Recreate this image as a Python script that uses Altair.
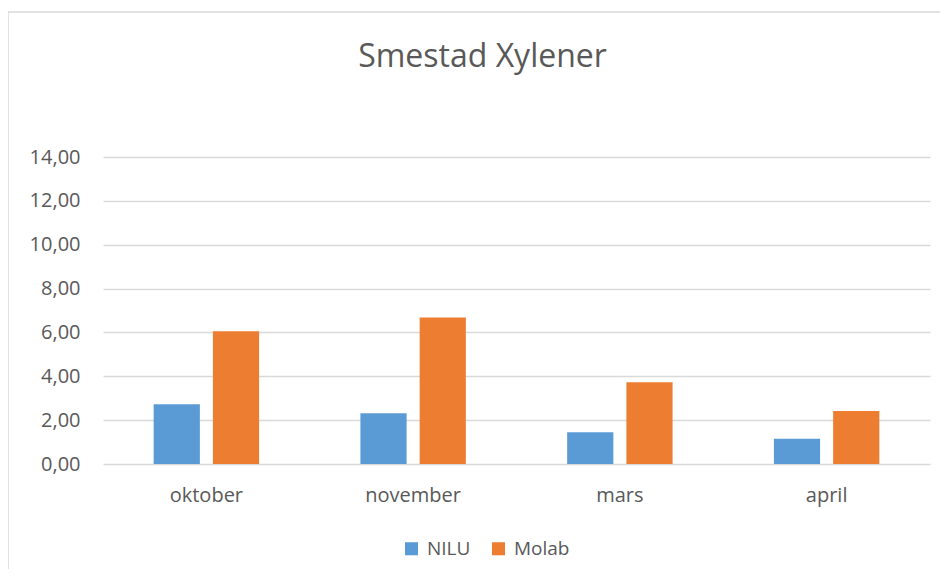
import altair as alt
import pandas as pd

months = ["oktober", "november", "mars", "april"]
series = ["NILU", "Molab"]
nilu = [2.73, 2.32, 1.45, 1.15]
molab = [6.05, 6.68, 3.73, 2.42]

rows = []
for m, a, b in zip(months, nilu, molab):
    rows.append({"month": m, "series": "NILU", "value": a})
    rows.append({"month": m, "series": "Molab", "value": b})
df = pd.DataFrame(rows)

FONT = "Open Sans"
TXT = "#595959"

frame = alt.Chart(pd.DataFrame({"a": [0]})).mark_rect(
    filled=False, stroke="#D9D9D9", strokeWidth=1.5
).encode(
    x=alt.value(-95), x2=alt.value(900), y=alt.value(-145), y2=alt.value(500)
)

bars = alt.Chart(df).mark_bar().encode(
    x=alt.X("month:N", sort=months,
            scale=alt.Scale(paddingInner=0.49, paddingOuter=0.245),
            axis=alt.Axis(title=None, labelAngle=0, domain=False, ticks=False,
                          labelPadding=21, labelFontSize=20, labelColor=TXT,
                          labelFont=FONT)),
    xOffset=alt.XOffset("series:N", sort=series,
                        scale=alt.Scale(paddingInner=0.22, paddingOuter=0)),
    y=alt.Y("value:Q", scale=alt.Scale(domain=[0, 14]),
            axis=alt.Axis(title=None, values=[0, 2, 4, 6, 8, 10, 12, 14],
                          format=".2f", labelExpr="replace(datum.label, '.', ',')",
                          domain=False, ticks=False, labelPadding=23,
                          labelFontSize=20, labelColor=TXT, labelFont=FONT,
                          gridColor="#D9D9D9", gridWidth=1.3)),
    color=alt.Color("series:N", sort=series,
                    scale=alt.Scale(domain=series, range=["#5B9BD5", "#ED7D31"]),
                    legend=alt.Legend(title=None, orient="none", direction="horizontal",
                                      legendX=299, legendY=382, symbolType="square",
                                      symbolSize=170, symbolStrokeWidth=0,
                                      labelFontSize=19, labelColor=TXT, labelFont=FONT,
                                      columnPadding=18, labelOffset=6)),
)

chart = alt.layer(frame, bars).properties(
    width=827, height=307,
    padding={"left": 95, "top": 149, "right": 10, "bottom": 105},
    autosize=alt.AutoSizeParams(type="none"),
    title=alt.Title("Smestad Xylener", fontSize=32, font=FONT, color=TXT,
                    fontWeight="normal", anchor="middle", frame="group",
                    baseline="alphabetic", offset=-88, dx=-34),
).configure_view(stroke=None)

chart.save("out.html", embed_options={"renderer": "svg", "actions": False})
